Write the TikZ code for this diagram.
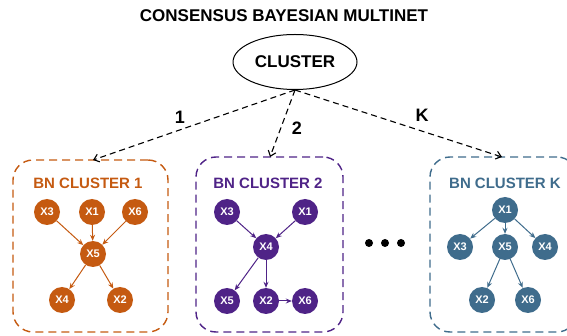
\documentclass[tikz,border=0pt]{standalone}
\usepackage{fontspec}
\setmainfont{Liberation Sans}
\usetikzlibrary{arrows.meta,shapes.geometric}
\definecolor{bnorange}{HTML}{C55A11}
\definecolor{bnpurple}{HTML}{4F2387}
\definecolor{bnblue}{HTML}{3F6C8C}
\tikzset{
  var/.style={circle,fill=#1,draw=none,minimum size=26pt,inner sep=0pt,
    text=white,font=\bfseries\fontsize{11}{11}\selectfont},
  dep/.style={draw=#1,line width=1pt,-{Stealth[length=6pt,width=5pt]}},
  clusterbox/.style={draw=#1,line width=1.4pt,dash pattern=on 8pt off 5pt,
    rounded corners=20pt,minimum width=155pt,minimum height=172pt,inner sep=0pt},
  boxtitle/.style={text=#1,font=\bfseries\fontsize{15}{15}\selectfont},
  branch/.style={draw=black,line width=1.1pt,dash pattern=on 6pt off 4pt,
    -{Straight Barb[length=5pt,width=8pt,line width=1.1pt]}},
  branchlabel/.style={font=\bfseries\fontsize{18}{18}\selectfont},
  dotmark/.style={circle,fill=black,minimum size=8pt,inner sep=0pt}
}
\begin{document}
\begin{tikzpicture}[x=1pt,y=-1pt]
\useasboundingbox (0,0) rectangle (567,336);
\clip (0,0) rectangle (567,336);

% heading and root variable
\node[font=\bfseries\fontsize{17}{17}\selectfont] (title) at (284,16) {CONSENSUS BAYESIAN MULTINET};
\node[ellipse,draw,line width=1pt,minimum width=124pt,minimum height=55pt,inner sep=0pt,
  font=\bfseries\fontsize{17}{17}\selectfont] (root) at (295,62) {CLUSTER};

% cluster containers
\node[clusterbox=bnorange] (box1) at (90.5,246) {};
\node[clusterbox=bnpurple,minimum width=147pt,minimum height=175pt] (box2) at (269.5,244.5) {};
\node[clusterbox=bnblue,minimum width=147pt,minimum height=175pt] (boxk) at (503.5,244.5) {};

\node[boxtitle=bnorange] (t1) at (88,183) {BN CLUSTER 1};
\node[boxtitle=bnpurple] (t2) at (268,183) {BN CLUSTER 2};
\node[boxtitle=bnblue] (tk) at (505,183) {BN CLUSTER K};

% branches from the root
\coordinate (e1) at (93,160);
\coordinate (e2) at (270,157);
\coordinate (ek) at (502,157);
\draw[branch] (root.south) -- (e1);
\draw[branch] (root.south) -- (e2);
\draw[branch] (root.south) -- (ek);
\node[branchlabel] (l1) at (180,117) {1};
\node[branchlabel] (l2) at (297,128) {2};
\node[branchlabel] (lk) at (422,115) {K};

% ellipsis between clusters
\node[dotmark] (d1) at (369,243) {};
\node[dotmark] (d2) at (385,243) {};
\node[dotmark] (d3) at (401,243) {};

% cluster 1 network
\node[var=bnorange] (a3) at (47,212) {X3};
\node[var=bnorange] (a1) at (92,212) {X1};
\node[var=bnorange] (a6) at (135,212) {X6};
\node[var=bnorange] (a5) at (93,254) {X5};
\node[var=bnorange] (a4) at (62,300) {X4};
\node[var=bnorange] (a2) at (120,300) {X2};
\draw[dep=bnorange] (a3) -- (a5);
\draw[dep=bnorange] (a1) -- (a5);
\draw[dep=bnorange] (a6) -- (a5);
\draw[dep=bnorange] (a5) -- (a4);
\draw[dep=bnorange] (a5) -- (a2);

% cluster 2 network
\node[var=bnpurple] (b3) at (227,212) {X3};
\node[var=bnpurple] (b1) at (305,212) {X1};
\node[var=bnpurple] (b4) at (266,247) {X4};
\node[var=bnpurple] (b5) at (227,301) {X5};
\node[var=bnpurple] (b2) at (266,301) {X2};
\node[var=bnpurple] (b6) at (305,301) {X6};
\draw[dep=bnpurple] (b3) -- (b4);
\draw[dep=bnpurple] (b1) -- (b4);
\draw[dep=bnpurple] (b4) -- (b5);
\draw[dep=bnpurple] (b4) -- (b2);
\draw[dep=bnpurple] (b2) -- (b6);

% cluster K network
\node[var=bnblue] (c1) at (505,210) {X1};
\node[var=bnblue] (c3) at (460,247) {X3};
\node[var=bnblue] (c5) at (505,247) {X5};
\node[var=bnblue] (c4) at (545,247) {X4};
\node[var=bnblue] (c2) at (482,300) {X2};
\node[var=bnblue] (c6) at (528,300) {X6};
\draw[dep=bnblue] (c1) -- (c3);
\draw[dep=bnblue] (c1) -- (c5);
\draw[dep=bnblue] (c1) -- (c4);
\draw[dep=bnblue] (c5) -- (c2);
\draw[dep=bnblue] (c5) -- (c6);
\end{tikzpicture}
\end{document}
